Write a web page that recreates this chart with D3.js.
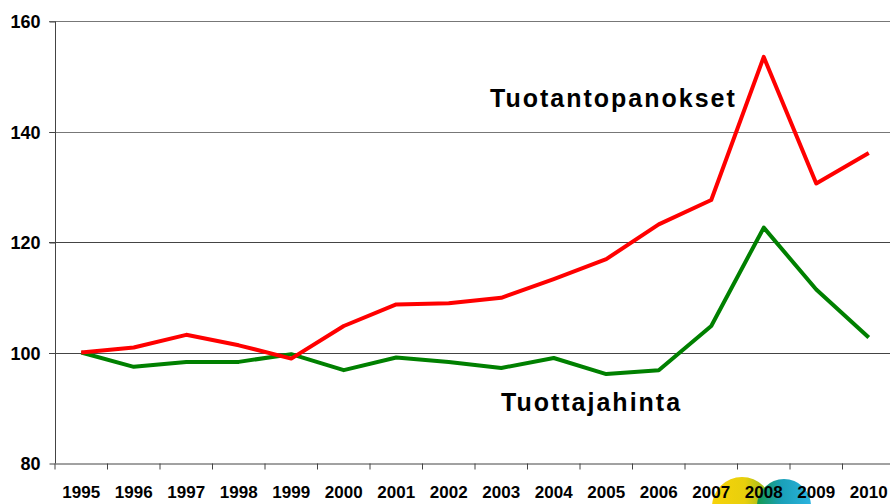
<!DOCTYPE html>
<html>
<head>
<meta charset="utf-8">
<script src="https://cdn.jsdelivr.net/npm/d3@7"></script>
<style>
    body { margin: 0; background: #fff; }
    svg { display: block; font-family: "Liberation Sans", Arial, Helvetica, sans-serif; font-weight: bold; }
</style>
</head>
<body>
<div id="chart"></div>
<script>
// Years on the x axis
const years = ["1995", "1996", "1997", "1998", "1999", "2000", "2001", "2002",
    "2003", "2004", "2005", "2006", "2007", "2008", "2009", "2010"];

// Index values (1995 = 100)
const tuotantopanokset = [100, 100.9, 103.2, 101.3, 98.9, 104.8, 108.7, 108.9,
    109.9, 113.3, 116.9, 123.2, 127.6, 153.5, 130.6, 136.1];
const tuottajahinta = [100, 97.4, 98.3, 98.3, 99.7, 96.8, 99.1, 98.3,
    97.2, 99.0, 96.1, 96.8, 104.8, 122.6, 111.4, 102.7];

const yTicks = [80, 100, 120, 140, 160];

const width = 890, height = 504;
const margin = { top: 21, right: -5, bottom: 41, left: 55 };

const svg = d3.select("#chart").append("svg")
    .attr("width", width)
    .attr("height", height);

const x = d3.scaleBand()
    .domain(years)
    .range([margin.left, width - margin.right])
    .padding(0);

const y = d3.scaleLinear()
    .domain([80, 160])
    .range([height - margin.bottom, margin.top]);

// logo circles peeking in at the bottom
const defs = svg.append("defs");
let gy = defs.append("linearGradient").attr("id", "gy");
gy.append("stop").attr("offset", "0%").attr("stop-color", "#f7d30a");
gy.append("stop").attr("offset", "55%").attr("stop-color", "#e8cf0c");
gy.append("stop").attr("offset", "100%").attr("stop-color", "#86b422");
let gb = defs.append("linearGradient").attr("id", "gb");
gb.append("stop").attr("offset", "0%").attr("stop-color", "#159a4e");
gb.append("stop").attr("offset", "45%").attr("stop-color", "#1aa0b8");
gb.append("stop").attr("offset", "100%").attr("stop-color", "#2bb3e0");

svg.append("circle").attr("cx", 742).attr("cy", 507).attr("r", 30).attr("fill", "url(#gy)");
svg.append("circle").attr("cx", 784).attr("cy", 506).attr("r", 27).attr("fill", "url(#gb)");

// gridlines
svg.append("g")
    .selectAll("line")
    .data(yTicks.slice(1))
    .enter().append("line")
    .attr("x1", margin.left - 6)
    .attr("x2", width)
    .attr("y1", d => Math.round(y(d)) + 0.5)
    .attr("y2", d => Math.round(y(d)) + 0.5)
    .style("stroke", d => d >= 140 ? "#777" : "#444")
    .style("stroke-width", 1);

// y axis
const yAxis = svg.append("g")
    .attr("transform", "translate(" + (margin.left + 0.5) + ",0.5)")
    .call(d3.axisLeft(y).tickValues(yTicks).tickSize(6).tickPadding(9));

// x axis
const xAxis = svg.append("g")
    .attr("transform", "translate(0," + (Math.round(y(80)) + 0.5) + ")")
    .call(d3.axisBottom(x).tickSize(0).tickPadding(22));

xAxis.selectAll(".tick")
    .append("line")
    .attr("x1", -x.bandwidth() / 2)
    .attr("x2", -x.bandwidth() / 2)
    .attr("y2", 6);

svg.selectAll(".domain").style("stroke", "#444").style("stroke-width", 1);
svg.selectAll(".tick line").style("stroke", "#444");
yAxis.selectAll("text").style("font-size", "18px").style("fill", "#000").attr("dy", "0.35em");
yAxis.select(".domain").attr("d", "M0," + Math.round(y(160)) + "V" + Math.round(y(80)));
xAxis.selectAll("text").style("font-size", "17px").style("fill", "#000");

// lines
const line = d3.line()
    .x((d, i) => x(years[i]) + x.bandwidth() / 2)
    .y(d => y(d));

svg.append("path")
    .datum(tuottajahinta)
    .attr("d", line)
    .style("fill", "none")
    .style("stroke", "#008000")
    .style("stroke-width", 4)
    .style("stroke-linejoin", "round");

svg.append("path")
    .datum(tuotantopanokset)
    .attr("d", line)
    .style("fill", "none")
    .style("stroke", "#ff0000")
    .style("stroke-width", 4)
    .style("stroke-linejoin", "round");

// series labels
svg.append("text")
    .attr("x", 490)
    .attr("y", 107)
    .style("font-size", "25px")
    .style("letter-spacing", "2px")
    .text("Tuotantopanokset");

svg.append("text")
    .attr("x", 501)
    .attr("y", 411)
    .style("font-size", "25px")
    .style("letter-spacing", "2px")
    .text("Tuottajahinta");
</script>
</body>
</html>
